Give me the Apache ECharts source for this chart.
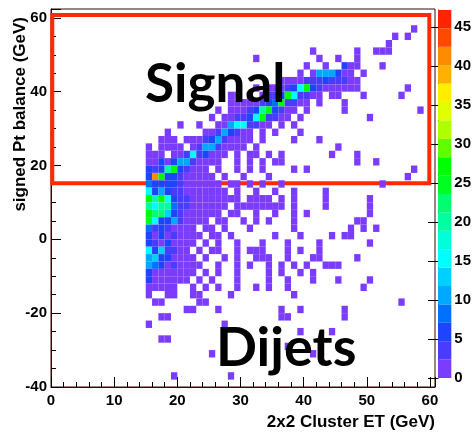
<!DOCTYPE html>
<html>
<head>
<meta charset="utf-8">
<script src="https://cdn.jsdelivr.net/npm/echarts@6/dist/echarts.min.js"></script>
<style>
  html, body { margin: 0; padding: 0; background: #fff; }
  #chart { width: 474px; height: 432px; }
</style>
</head>
<body>
<div id="chart"></div>
<script>
  // bin sizes of the histogram (GeV)
  const binX = 1
  const binY = 2
  // each row: lower y edge, then "x" (1 entry) or "x:n" for occupied x bins
  const histRows = [
    [56, '57'],
    [54, '54 56'],
    [52, '53'],
    [50, '41 48 51 52 53'],
    [48, '32 42 45 48'],
    [46, '40 43 46:7 47 48 52'],
    [44, '39 41 42:11 43:11 44:10 45:6 46:2 47:2 49'],
    [42, '36 37 38:2 39:2 40:3 41:4 42:3 43:5 44:4 45:3 46:3 47:2 48:2'],
    [40, '32 34 35:2 36:2 37:3 38:6 39:15 40:27 41:5 42:3 43:2 44:2 45:2 46:2 47 48 56'],
    [38, '28 29 31 33:2 34:3 35:4 36:6 37:27 38:16 39:4 40:3 41:2 42 44 45 49 55'],
    [36, '28 29 30 31:2 32:2 33:3 34:5 35:8 36:28 37:4 38:3 39:2 40 42 46'],
    [34, '26 28 29:2 30:2 31:3 32:5 33:20 34:27 35:6 36:3 37:2 38 40 46 58'],
    [32, '25 27 28:2 29:3 30:4 31:6 32:15 33:27 34:4 35:3 36:2 37 39 50'],
    [30, '20 23 26 27:2 28:11 29:16 30:15 31:4 32:3 33:2 34 36 38'],
    [28, '18 24 25:2 26:3 27:11 28:5 29:3 30:2 31:2 33 35 39'],
    [26, '17 18 19 21 22 23:2 24:3 25:7 26:11 27:3 28:2 29 30 31 33 38 42'],
    [24, '15 17 18 19 20 22:2 23:3 24:11 25:11 26:3 27:2 28 29 30 32 45'],
    [22, '15 16 17:2 19 20:2 21:4 22:16 23:4 24:6 25:2 26 27 29 31 32 34 36 44 48'],
    [20, '15:2 16:2 17:6 18:2 19:7 20:11 21:11 22:3 23:2 24 25 26 29 31 33 35 36 48 51'],
    [18, '15:6 16:4 17:7 18:20 19:26 20:5 21:3 22:2 23 24 26 29 31 33 38 40 57'],
    [16, '15:7 16:41 17:27 18:6 19:6 20:3 21:2 22:2 23 24 25 27 30 34 56'],
    [14, '15:8 16:6 17:5 18:5 19:5 20:3 21:2 22:2 23 24:2 25 26 28 29 31 33 36 52'],
    [12, '15:15 16:7 17:11 18:5 19:4 20:3 21:2 22:2 23:2 24 25 26 27 29 32 35 38 43'],
    [10, '15:28 16:20 17:28 18:15 19:7 20:4 21:3 22:2 23:2 24 25:2 26 27 28 29 31 32 33 34 36 38 43 50'],
    [8, '15:20 16:15 17:20 18:19 19:8 20:4 21:3 22:2 23:2 24:2 25 26 27 29 30 31 32 33 34 35 36 38 43 50'],
    [6, '15:28 16:22 17:22 18:12 19:5 20:3 21:2 22:2 23 24 25 26 28 29 32 35 38 40 50'],
    [4, '15:24 16:15 17:6 18:6 19:11 20:3 21:2 22 23 24 26 27 30 32 34 38 48 49'],
    [2, '15:8 16:4 17:6 18:3 19:2 20:2 21 22 24 25 27 31 38 47 49 51'],
    [0, '15:6 16:2 17:7 18:2 19:3 20:2 21:2 22 23 25 26 28 35 39 44 46 47'],
    [-2, '15:6 16:3 17:2 18:5 19:2 20:2 21 22 24 26 29 33 37 42 50'],
    [-4, '15:16 16:7 17:14 18:3 19:3 20:2 21 23 25 26 29 31 32 33 37 39 42'],
    [-6, '15:11 16:12 17:6 18:5 19:2 20:2 21:2 22 24 27 29 32 33 34 37 41 42 48'],
    [-8, '15:11 16:8 17:6 18:2 19:3 20:2 21 22:2 23 26 29 31 34 36 38 40 43 44 45'],
    [-10, '15:7 16:2 17:2 18 19 20 21:2 22 24 26 29 34 36 39 41'],
    [-12, '15:6 16:2 17:2 18 19 20 21 23 25 29 34 37 41 45 50'],
    [-14, '15:2 16 17 18 19 22 24 26 29 32 34 37 49'],
    [-16, '15 18 19 22 23 28 38'],
    [-18, '16 17 23 24 55'],
    [-20, '21 22 26 36 39 46'],
    [-22, '17 18 36 37 46'],
    [-24, '15 27'],
    [-26, '39 44'],
    [-28, '17 18'],
    [-30, '37'],
    [-32, '25 41'],
    [-38, '19 28']
  ]
  // colour scale: 20 contour levels from 0 to zMax
  const zMax = 47.2
  const levelColors = [
    '#7b3cff', '#4a3cff', '#1f44ff', '#0070ff', '#00a8ff',
    '#00d0ff', '#00ffff', '#00ffd8', '#00ffa0', '#00ff70',
    '#00ff20', '#00ff00', '#60ff00', '#b0ff00', '#e0ff00',
    '#ffee00', '#ffb000', '#ff8c00', '#ff4800', '#ff2400'
  ]
  // annotation box (x0, y0, x1, y1 in axis units)
  const signalBox = [0.2, 15.2, 59.9, 60.8]

  let cells = []
  histRows.forEach(([y, row]) => {
    row.split(' ').forEach(tok => {
      const parts = tok.split(':')
      cells.push([+parts[0], y, parts.length > 1 ? +parts[1] : 1])
    })
  })
  const step = zMax / levelColors.length
  const pieces = levelColors.map((c, i) => ({ gte: i * step, lt: (i + 1) * step, color: c }))
  const barData = levelColors.map((c, i) => [i * step, (i + 1) * step, i])

  const font = '"Liberation Sans", Arial, sans-serif'
  const labelStyle = { color: '#000', fontWeight: 'bold', fontSize: 15, fontFamily: font }
  const handFont = '"Comic Sans MS", Lato, sans-serif'
  const frameColor = '#3a0808'

  let chart = echarts.init(document.getElementById('chart'))
  chart.setOption({
    animation: false,
    grid: [
      { left: 51, top: 9, right: 39, bottom: 45, show: true, borderColor: frameColor, borderWidth: 1 },
      { left: 438, top: 10, width: 21, height: 368 }
    ],
    xAxis: [
      {
        type: 'value', gridIndex: 0, min: 0, max: 60.8, interval: 10,
        axisLine: { onZero: false, lineStyle: { color: frameColor } },
        axisTick: { inside: true, length: 10, lineStyle: { color: '#000' } },
        minorTick: { show: true, splitNumber: 5, length: 5, lineStyle: { color: '#000' } },
        axisLabel: Object.assign({ margin: 6, showMaxLabel: false }, labelStyle),
        splitLine: { show: false }
      },
      { type: 'value', gridIndex: 1, min: 0, max: 1, show: false }
    ],
    yAxis: [
      {
        type: 'value', gridIndex: 0, min: -40, max: 62.4, interval: 20,
        axisLine: { onZero: false, lineStyle: { color: frameColor } },
        axisTick: { inside: true, length: 10, lineStyle: { color: '#000' } },
        minorTick: { show: true, splitNumber: 4, length: 5, lineStyle: { color: '#000' } },
        axisLabel: Object.assign({ margin: 4, showMaxLabel: false }, labelStyle),
        splitLine: { show: false }
      },
      {
        type: 'value', gridIndex: 1, position: 'right', min: 0, max: zMax, interval: 5,
        axisLine: { show: true, lineStyle: { color: '#000' } },
        axisTick: { inside: true, length: 10, lineStyle: { color: '#000' } },
        axisLabel: Object.assign({ margin: 3, showMaxLabel: false }, labelStyle),
        splitLine: { show: false }
      }
    ],
    visualMap: {
      type: 'piecewise', show: false, seriesIndex: 0, dimension: 2, pieces: pieces
    },
    series: [
      {
        type: 'custom', xAxisIndex: 0, yAxisIndex: 0, z: 2,
        data: cells,
        renderItem: (params, api) => {
          const p0 = api.coord([api.value(0), api.value(1) + binY])
          const p1 = api.coord([api.value(0) + binX, api.value(1)])
          return {
            type: 'rect',
            shape: { x: p0[0], y: p0[1], width: p1[0] - p0[0], height: p1[1] - p0[1] },
            style: { fill: api.visual('color') }
          }
        }
      },
      {
        type: 'custom', xAxisIndex: 1, yAxisIndex: 1,
        data: barData,
        renderItem: (params, api) => {
          const p0 = api.coord([0, api.value(1)])
          const p1 = api.coord([1, api.value(0)])
          return {
            type: 'rect',
            shape: { x: p0[0], y: p0[1], width: p1[0] - p0[0], height: p1[1] - p0[1] },
            style: { fill: levelColors[api.value(2)] }
          }
        }
      },
      {
        type: 'line', xAxisIndex: 0, yAxisIndex: 0, data: [], z: 5,
        markArea: {
          silent: true,
          itemStyle: { color: 'rgba(0,0,0,0)', borderColor: '#ff2a00', borderWidth: 4 },
          data: [[{ coord: [signalBox[0], signalBox[1]] }, { coord: [signalBox[2], signalBox[3]] }]]
        }
      }
    ],
    graphic: [
      {
        type: 'text', x: 145, y: 85, z: 100,
        style: { text: 'Signal', font: 'bold 53px ' + handFont, fill: '#000', align: 'left', verticalAlign: 'middle' }
      },
      {
        type: 'text', x: 216, y: 349, z: 100,
        style: { text: 'Dijets', font: 'bold 54px ' + handFont, fill: '#000', align: 'left', verticalAlign: 'middle' }
      },
      {
        type: 'text', x: 20, y: 17, rotation: Math.PI / 2, z: 100,
        style: { text: 'signed Pt balance (GeV)', font: 'bold 17px ' + font, fill: '#000', align: 'right', verticalAlign: 'middle' }
      },
      {
        type: 'text', x: 435, y: 422, z: 100,
        style: { text: '2x2 Cluster ET (GeV)', font: 'bold 17px ' + font, fill: '#000', align: 'right', verticalAlign: 'middle' }
      }
    ]
  })
</script>
</body>
</html>
